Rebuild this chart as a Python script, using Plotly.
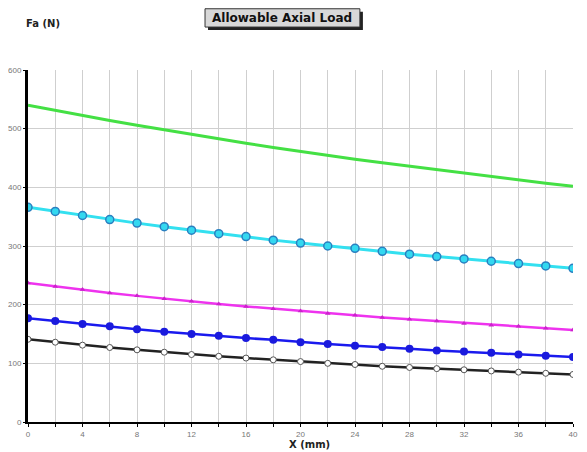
import plotly.graph_objects as go

x_mm = [0, 2, 4, 6, 8, 10, 12, 14, 16, 18, 20, 22, 24, 26, 28, 30, 32, 34, 36, 38, 40]
green_vals = [540, 531, 522, 514, 506, 498, 490, 482, 475, 468, 461, 454, 448, 442, 436, 430, 424, 418, 413, 407, 402]
cyan_vals = [366, 359, 352, 345, 339, 333, 327, 321, 316, 310, 305, 300, 296, 291, 286, 282, 278, 274, 270, 266, 262]
magenta_vals = [237, 231, 226, 220, 215, 210, 206, 201, 197, 193, 189, 185, 182, 178, 175, 172, 168, 165, 163, 160, 157]
blue_vals = [177, 172, 167, 163, 158, 154, 150, 147, 143, 140, 136, 133, 130, 128, 125, 122, 120, 118, 115, 113, 111]
black_vals = [141, 136, 131, 127, 123, 119, 115, 112, 109, 106, 103, 100, 98, 95, 93, 91, 89, 87, 85, 83, 81]

fig = go.Figure()
fig.add_trace(go.Scatter(x=x_mm, y=green_vals, mode="lines",
                         line=dict(color="#44e044", width=3)))
fig.add_trace(go.Scatter(x=x_mm, y=cyan_vals, mode="lines+markers",
                         line=dict(color="#33e0f0", width=3),
                         marker=dict(size=8, color="#33d8f0", line=dict(color="#2a7fc0", width=1.5))))
fig.add_trace(go.Scatter(x=x_mm, y=magenta_vals, mode="lines+markers",
                         line=dict(color="#ee33ee", width=2.5),
                         marker=dict(size=5, symbol="triangle-up", color="#cc22cc")))
fig.add_trace(go.Scatter(x=x_mm, y=blue_vals, mode="lines+markers",
                         line=dict(color="#1a1aee", width=2.5),
                         marker=dict(size=8, color="#1a1add")))
fig.add_trace(go.Scatter(x=x_mm, y=black_vals, mode="lines+markers",
                         line=dict(color="#222222", width=2.5),
                         marker=dict(size=6, color="white", line=dict(color="#555555", width=1))))

fig.update_layout(
    width=587, height=452,
    margin=dict(l=20, r=22, t=62, b=38, autoexpand=False),
    plot_bgcolor="white", paper_bgcolor="white",
    showlegend=False,
    font=dict(family="Liberation Sans, Arial, sans-serif", size=8, color="#555555"),
)
fig.update_xaxes(range=[0, 40], dtick=4, tick0=0, showgrid=True, gridcolor="#cfcfcf", gridwidth=1,
                 minor=dict(dtick=2, showgrid=True, gridcolor="#cfcfcf", ticks="outside", ticklen=3, tickcolor="black"),
                 showline=True, linecolor="black", linewidth=2,
                 ticks="outside", ticklen=3, tickcolor="black", automargin=False,
                 zeroline=False, tickfont=dict(size=8, color="#777777"))
fig.update_yaxes(range=[0, 600], dtick=100, showgrid=True, gridcolor="#cfcfcf", gridwidth=1,
                 showline=True, linecolor="black", linewidth=3,
                 ticks="outside", ticklen=2, tickcolor="black", automargin=False,
                 ticklabelstandoff=0,
                 zeroline=False, tickfont=dict(size=8, color="#777777"))

# Title box with shadow
x0, x1 = 0.3248, 0.609
y0, y1 = 1.122, 1.174
fig.add_shape(type="rect", xref="paper", yref="paper",
              x0=x0 + 0.0055, x1=x1 + 0.0055, y0=y0 - 0.0085, y1=y1 - 0.0085,
              fillcolor="#222222", line=dict(width=0), layer="above")
fig.add_shape(type="rect", xref="paper", yref="paper",
              x0=x0, x1=x1, y0=y0, y1=y1,
              fillcolor="#d8d8d8", line=dict(color="#333333", width=1), layer="above")
fig.add_annotation(xref="paper", yref="paper", x=(x0 + x1) / 2, y=(y0 + y1) / 2,
                   xanchor="center", yanchor="middle",
                   text="<b>Allowable Axial Load</b>", showarrow=False,
                   font=dict(family="DejaVu Sans, sans-serif", size=12, color="#111111"))
fig.add_annotation(xref="paper", yref="paper", x=-0.008, y=1.131, xanchor="left", yanchor="middle",
                   text="<b>Fa (N)</b>", showarrow=False,
                   font=dict(family="DejaVu Sans, sans-serif", size=10, color="#222222"))
fig.add_annotation(xref="paper", yref="paper", x=0.5156, y=-0.063, xanchor="center", yanchor="middle",
                   text="<b>X (mm)</b>", showarrow=False,
                   font=dict(family="DejaVu Sans, sans-serif", size=10, color="#222222"))

fig.write_html("out.html")
